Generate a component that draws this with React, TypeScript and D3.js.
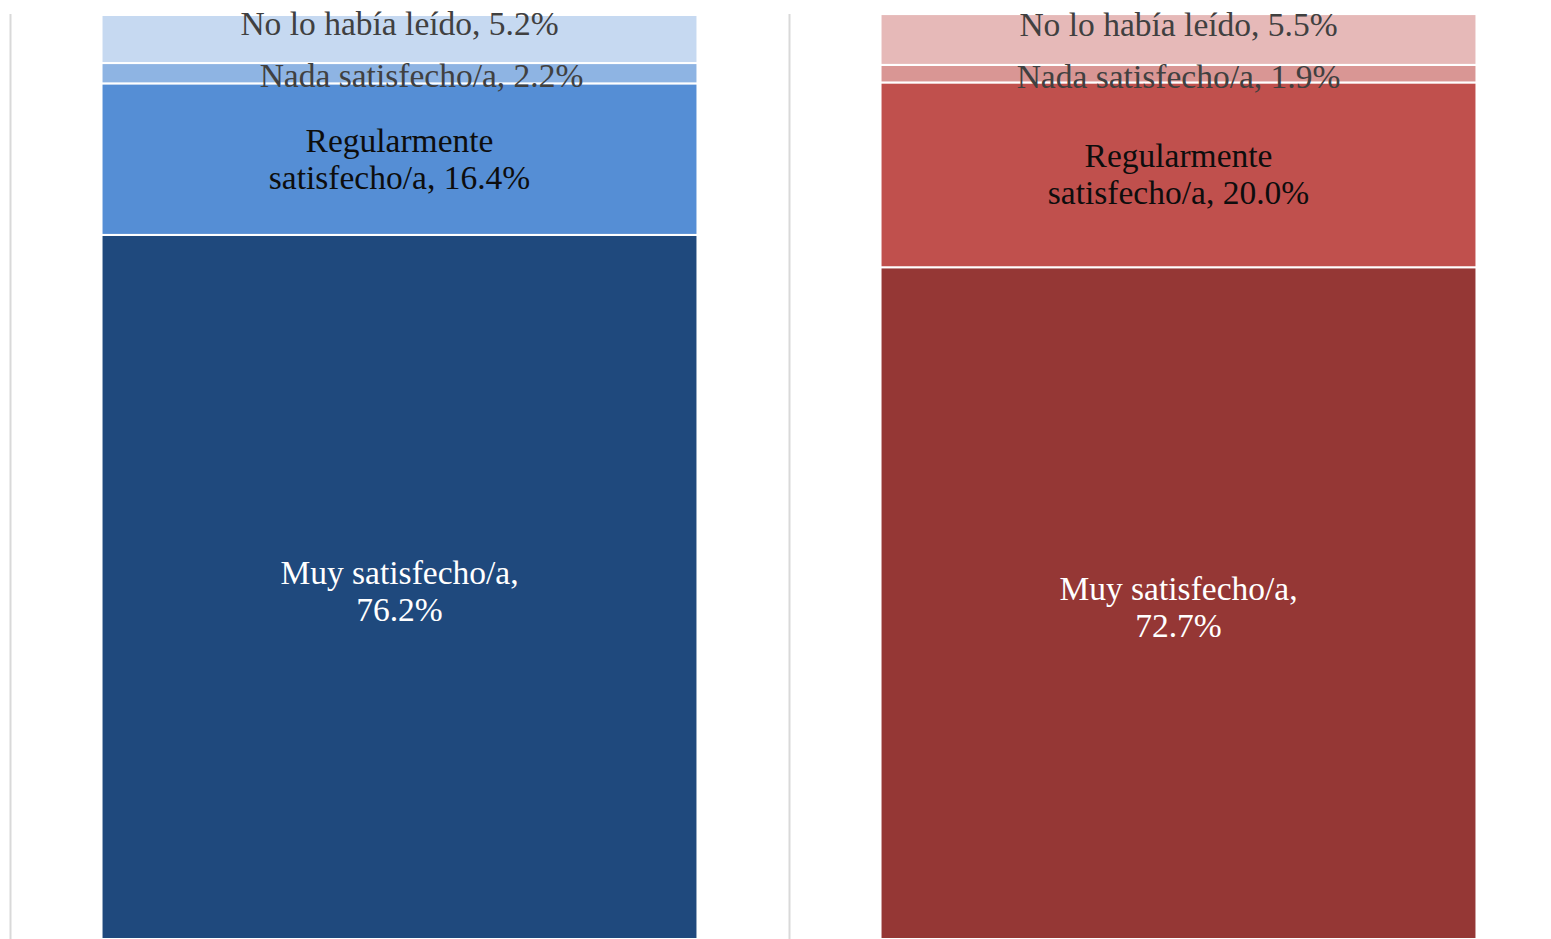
import React from "react";
import * as d3 from "d3";

const groups = ["Grupo 1", "Grupo 2"];
const levels = ["Muy satisfecho/a", "Regularmente satisfecho/a", "Nada satisfecho/a", "No lo había leído"];
const group1Values = [76.2, 16.4, 2.2, 5.2];
const group2Values = [72.7, 20.0, 1.9, 5.5];
const group1Colors = ["#1F497D", "#558ED5", "#8EB4E3", "#C6D9F1"];
const group2Colors = ["#953735", "#C0504D", "#D99694", "#E6B9B8"];
const labelLines = [
  ["Muy satisfecho/a,", "{v}"],
  ["Regularmente", "satisfecho/a, {v}"],
  ["Nada satisfecho/a, {v}"],
  ["No lo había leído, {v}"],
];

const W = 1551;
const H = 939;
const FONT = "'Liberation Serif', 'Times New Roman', serif";
const FS = 33.5;
const LH = 37;
// manual label nudges (as in the original chart)
const nudgesY = [4, 0, 3, -15];
const nudgesX = [
  [0, 0, 22, 0],
  [0, 0, 0, 0],
];
const textColors = ["#FFFFFF", "#0D0D0D", "#404040", "#404040"];

export default function App() {
  const x = d3.scaleBand<string>().domain(groups).range([10, 1568]).paddingInner(0).paddingOuter(0);
  const y = d3.scaleLinear().domain([0, 100]).range([939, 15]);
  const barW = x.bandwidth() * 0.765;
  const all = [group1Values, group2Values];
  const colors = [group1Colors, group2Colors];

  const gridXs = [...groups.map((g) => x(g)!), x(groups[groups.length - 1])! + x.bandwidth()];

  return (
    <svg width={W} height={H} style={{ position: "absolute", left: 0, top: 0, background: "#fff" }}>
      {gridXs.map((gx, i) => (
        <line key={i} x1={gx + 0.5} x2={gx + 0.5} y1={y(100) - 1} y2={H} stroke="#D9D9D9" strokeWidth={2} />
      ))}
      {groups.map((g, gi) => {
        const vals = all[gi];
        const cum = d3.cumsum(vals);
        const cx = x(g)! + x.bandwidth() / 2;
        const x0 = cx - barW / 2;
        return (
          <g key={g}>
            {vals.map((v, i) => {
              const lo = cum[i] - v;
              const hi = cum[i];
              return (
                <rect
                  key={i}
                  x={x0}
                  y={y(hi)}
                  width={barW}
                  height={y(lo) - y(hi)}
                  fill={colors[gi][i]}
                  stroke="#FFFFFF"
                  strokeWidth={2}
                />
              );
            })}
          </g>
        );
      })}
      {groups.map((g, gi) => {
        const vals = all[gi];
        const cum = d3.cumsum(vals);
        const cx0 = x(g)! + x.bandwidth() / 2;
        return (
          <g key={g + "l"}>
            {vals.map((v, i) => {
              const cx = cx0 + nudgesX[gi][i];
              const mid = (y(cum[i] - v) + y(cum[i])) / 2 + nudgesY[i];
              const lines = labelLines[i].map((s) => s.replace("{v}", v.toFixed(1) + "%"));
              const first = mid - ((lines.length - 1) * LH) / 2 + FS * 0.33;
              return (
                <text
                  key={i}
                  x={cx}
                  textAnchor="middle"
                  fontFamily={FONT}
                  fontSize={FS}
                  fill={textColors[i]}
                >
                  {lines.map((ln, li) => (
                    <tspan key={li} x={cx} y={first + li * LH}>
                      {ln}
                    </tspan>
                  ))}
                </text>
              );
            })}
          </g>
        );
      })}
    </svg>
  );
}
